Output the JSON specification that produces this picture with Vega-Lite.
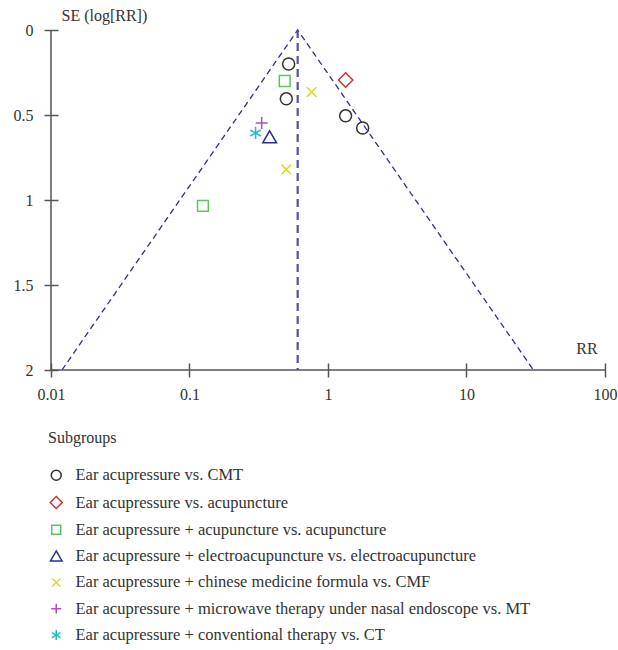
{
  "$schema": "https://vega.github.io/schema/vega-lite/v6.json",
  "width": 554,
  "height": 340,
  "autosize": {"type": "none"},
  "padding": {"left": 51, "top": 30, "right": 13, "bottom": 280},
  "background": "white",
  "config": {
    "view": {"stroke": null},
    "font": "Liberation Serif",
    "axis": {"labelFont": "Liberation Serif", "titleFont": "Liberation Serif", "labelColor": "#333", "titleColor": "#333", "tickColor": "#555", "labelFontSize": 16, "titleFontSize": 16, "titleFontWeight": "normal", "grid": false}
  },
  "datasets": {
    "studies": [
      {"subgroup": "Ear acupressure vs. CMT", "rr": 0.52, "se": 0.2},
      {"subgroup": "Ear acupressure vs. CMT", "rr": 0.5, "se": 0.405},
      {"subgroup": "Ear acupressure vs. CMT", "rr": 1.34, "se": 0.505},
      {"subgroup": "Ear acupressure vs. CMT", "rr": 1.78, "se": 0.576},
      {"subgroup": "Ear acupressure vs. acupuncture", "rr": 1.34, "se": 0.294},
      {"subgroup": "Ear acupressure + acupuncture vs. acupuncture", "rr": 0.487, "se": 0.3},
      {"subgroup": "Ear acupressure + acupuncture vs. acupuncture", "rr": 0.125, "se": 1.035},
      {"subgroup": "Ear acupressure + electroacupuncture vs. electroacupuncture", "rr": 0.379, "se": 0.63},
      {"subgroup": "Ear acupressure + chinese medicine formula vs. CMF", "rr": 0.762, "se": 0.365},
      {"subgroup": "Ear acupressure + chinese medicine formula vs. CMF", "rr": 0.5, "se": 0.82},
      {"subgroup": "Ear acupressure + microwave therapy under nasal endoscope vs. MT", "rr": 0.332, "se": 0.547},
      {"subgroup": "Ear acupressure + conventional therapy vs. CT", "rr": 0.3, "se": 0.606}
    ],
    "funnel": [
      {"order": 1, "rr": 0.012, "se": 2},
      {"order": 2, "rr": 0.604, "se": 0},
      {"order": 3, "rr": 30.4, "se": 2}
    ],
    "pooled": [{"rr": 0.604, "se": 0, "se2": 2}],
    "xline": [{"rr": 0.01, "rr2": 100, "se": 2}],
    "yline": [{"rr": 0.01, "se": 0, "se2": 2}]
  },
  "layer": [
    {
      "data": {"name": "funnel"},
      "mark": {"type": "line", "color": "#2e2e8c", "strokeWidth": 1.3, "strokeDash": [6, 4]},
      "encoding": {
        "x": {"field": "rr", "type": "quantitative", "scale": {"type": "log", "domain": [0.01, 100]},
          "axis": {"orient": "bottom", "values": [0.01, 0.1, 1, 10, 100], "format": "~g", "offset": -7, "domain": false, "tickSize": 14, "tickWidth": 1.5, "labelPadding": 9, "labelFlush": false, "labelOverlap": false, "title": "RR", "titleAngle": 0, "titleX": 535.5, "titleY": -15, "titleAlign": "center", "titleBaseline": "middle"}},
        "y": {"field": "se", "type": "quantitative", "scale": {"domain": [0, 2], "reverse": true},
          "axis": {"orient": "left", "values": [0, 0.5, 1, 1.5, 2], "format": "~g", "offset": -7, "domain": false, "tickSize": 14, "tickWidth": 1.5, "labelPadding": 11, "labelFlush": false, "labelOverlap": false, "title": "SE (log[RR])", "titleAngle": 0, "titleX": 3, "titleY": -15, "titleAlign": "left", "titleBaseline": "middle"}},
        "order": {"field": "order"}
      }
    },
    {
      "data": {"name": "pooled"},
      "mark": {"type": "rule", "color": "#5252a6", "strokeWidth": 2.2, "strokeDash": [8, 5]},
      "encoding": {
        "x": {"field": "rr", "type": "quantitative"},
        "y": {"field": "se", "type": "quantitative"},
        "y2": {"field": "se2"}
      }
    },
    {
      "data": {"name": "xline"},
      "mark": {"type": "rule", "color": "#555", "strokeWidth": 1.5},
      "encoding": {
        "x": {"field": "rr", "type": "quantitative"},
        "x2": {"field": "rr2"},
        "y": {"field": "se", "type": "quantitative"}
      }
    },
    {
      "data": {"name": "yline"},
      "mark": {"type": "rule", "color": "#555", "strokeWidth": 1.5},
      "encoding": {
        "x": {"field": "rr", "type": "quantitative"},
        "y": {"field": "se", "type": "quantitative"},
        "y2": {"field": "se2"}
      }
    },
    {
      "data": {"name": "studies"},
      "mark": {"type": "point", "filled": false, "strokeWidth": 1.5, "size": 144, "opacity": 1},
      "encoding": {
        "x": {"field": "rr", "type": "quantitative"},
        "y": {"field": "se", "type": "quantitative"},
        "color": {"field": "subgroup", "type": "nominal",
          "scale": {
            "domain": ["Ear acupressure vs. CMT", "Ear acupressure vs. acupuncture", "Ear acupressure + acupuncture vs. acupuncture", "Ear acupressure + electroacupuncture vs. electroacupuncture", "Ear acupressure + chinese medicine formula vs. CMF", "Ear acupressure + microwave therapy under nasal endoscope vs. MT", "Ear acupressure + conventional therapy vs. CT"],
            "range": ["#333333", "#d62f2f", "#5cc65c", "#2b2b96", "#d8d830", "#b050b0", "#22bcbc"]
          },
          "legend": {"title": "Subgroups", "orient": "none", "legendX": -3, "legendY": 400, "titleFont": "Liberation Serif", "titleFontSize": 16, "titleFontWeight": "normal", "titleColor": "#333", "titlePadding": 21, "labelFont": "Liberation Serif", "labelFontSize": 16.5, "labelColor": "#333", "rowPadding": 9.3, "symbolSize": 100, "symbolStrokeWidth": 1.5, "labelOffset": 11, "labelLimit": 600}
        },
        "shape": {"field": "subgroup", "type": "nominal",
          "scale": {
            "domain": ["Ear acupressure vs. CMT", "Ear acupressure vs. acupuncture", "Ear acupressure + acupuncture vs. acupuncture", "Ear acupressure + electroacupuncture vs. electroacupuncture", "Ear acupressure + chinese medicine formula vs. CMF", "Ear acupressure + microwave therapy under nasal endoscope vs. MT", "Ear acupressure + conventional therapy vs. CT"],
            "range": ["circle", "M0,-1.2L1.2,0L0,1.2L-1.2,0Z", "M-0.9,-0.9L0.9,-0.9L0.9,0.9L-0.9,0.9Z", "M0,-1.05L1.15,0.95L-1.15,0.95Z", "M-0.8,-0.8L0.8,0.8M-0.8,0.8L0.8,-0.8", "M-1,0L1,0M0,-1L0,1", "M0,-1L0,1M-0.87,-0.5L0.87,0.5M-0.87,0.5L0.87,-0.5"]
          },
          "legend": null
        }
      }
    }
  ]
}
